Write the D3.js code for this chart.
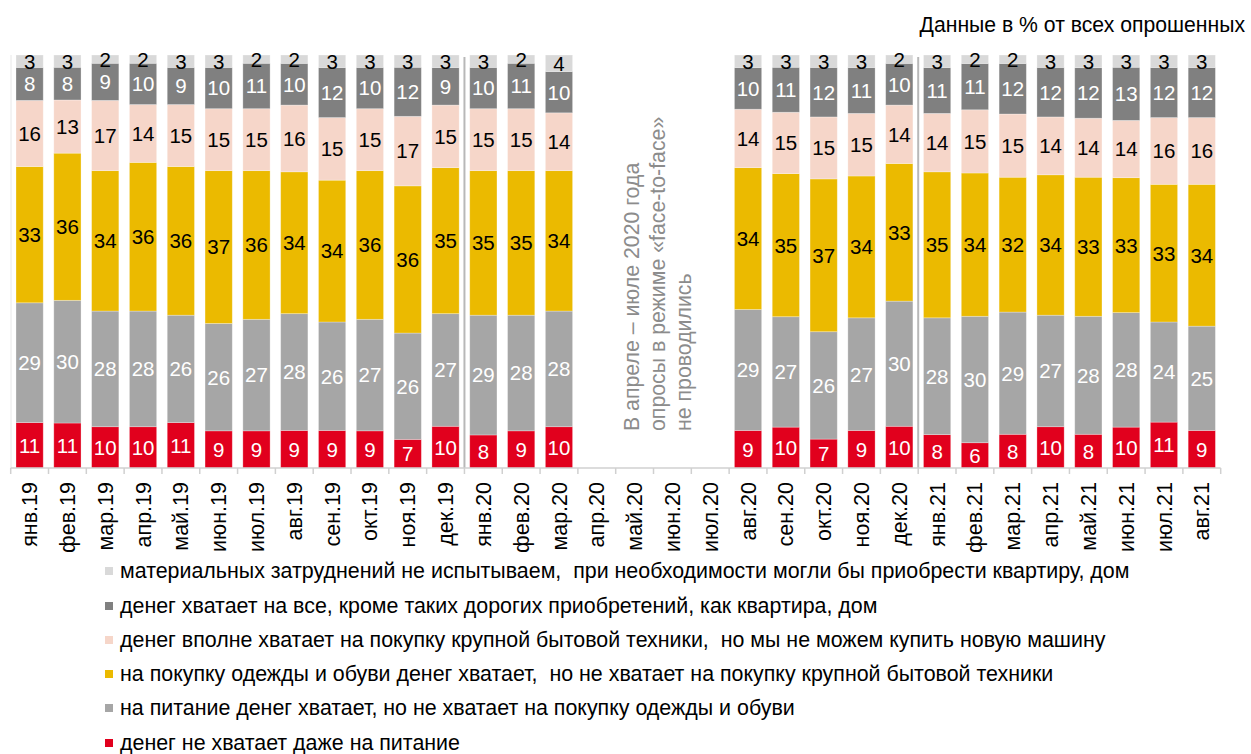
<!DOCTYPE html>
<html><head><meta charset="utf-8">
<script src="https://cdn.jsdelivr.net/npm/d3@7"></script>
<style>body{margin:0;background:#fff;} svg{display:block;font-family:"Liberation Sans",Arial,sans-serif;} text{white-space:pre;}</style>
</head><body>
<svg id="c" width="1251" height="754"></svg>
<script>
const categories = ["янв.19","фев.19","мар.19","апр.19","май.19","июн.19","июл.19","авг.19","сен.19","окт.19","ноя.19","дек.19","янв.20","фев.20","мар.20","апр.20","май.20","июн.20","июл.20","авг.20","сен.20","окт.20","ноя.20","дек.20","янв.21","фев.21","мар.21","апр.21","май.21","июн.21","июл.21","авг.21"];
const seriesNames = [
  "денег не хватает даже на питание",
  "на питание денег хватает, но не хватает на покупку одежды и обуви",
  "на покупку одежды и обуви денег хватает,  но не хватает на покупку крупной бытовой техники",
  "денег вполне хватает на покупку крупной бытовой техники,  но мы не можем купить новую машину",
  "денег хватает на все, кроме таких дорогих приобретений, как квартира, дом",
  "материальных затруднений не испытываем,  при необходимости могли бы приобрести квартиру, дом"
];
const noFood   = [11,11,10,10,11,9,9,9,9,9,7,10,8,9,10,null,null,null,null,9,10,7,9,10,8,6,8,10,8,10,11,9];
const foodOnly = [29,30,28,28,26,26,27,28,26,27,26,27,29,28,28,null,null,null,null,29,27,26,27,30,28,30,29,27,28,28,24,25];
const clothes  = [33,36,34,36,36,37,36,34,34,36,36,35,35,35,34,null,null,null,null,34,35,37,34,33,35,34,32,34,33,33,33,34];
const appliances = [16,13,17,14,15,15,15,16,15,15,17,15,15,15,14,null,null,null,null,14,15,15,15,14,14,15,15,14,14,14,16,16];
const allButHouse = [8,8,9,10,9,10,11,10,12,10,12,9,10,11,10,null,null,null,null,10,11,12,11,10,11,11,12,12,12,13,12,12];
const noHardship = [3,3,2,2,3,3,2,2,3,3,3,3,3,2,4,null,null,null,null,3,3,3,3,2,3,2,2,3,3,3,3,3];
const seriesValues = [noFood, foodOnly, clothes, appliances, allButHouse, noHardship];
const colors = ["#e1001d","#a6a6a6","#ebba00","#f6d6c9","#808080","#d9d9d9"];
const labelColors = ["#fff","#fff","#000","#000","#fff","#000"];
const titleText = "Данные в % от всех опрошенных";
const noteLines = ["В апреле – июле 2020 года","опросы в режиме «face-to-face»","не проводились"];
const separatorAfter = ["дек.19","дек.20"];

const svg = d3.select("#c");
const x = d3.scaleBand().domain(categories).range([10.7, 1220.7]).paddingInner(0.28).paddingOuter(0.14);
const y = d3.scaleLinear().domain([0,100]).range([468, 55]);
const step = x.step();
const edge = c => x(c) - x.paddingInner()*step/2;

// left faint axis
svg.append("line").attr("x1",11).attr("x2",11).attr("y1",y(100)).attr("y2",y(0)).attr("stroke","#e8e8e8").attr("stroke-width",1);

// stacked bars
categories.forEach((c,i) => {
  const vals = seriesValues.map(s => s[i]);
  if (vals[0] == null) return;
  const total = d3.sum(vals);
  let acc = 0;
  vals.forEach((v,k) => {
    const y0 = y(acc/total*100), y1 = y((acc+v)/total*100);
    acc += v;
    svg.append("rect").attr("x", x(c)).attr("width", x.bandwidth())
      .attr("y", y1).attr("height", y0-y1).attr("fill", colors[k])
      .attr("stroke","rgba(255,255,255,0.35)").attr("stroke-width",0.8);
    svg.append("text").attr("x", x(c)+x.bandwidth()/2).attr("y",(y0+y1)/2)
      .attr("dy","0.36em").attr("text-anchor","middle").attr("font-size",20.5)
      .attr("fill", labelColors[k]).text(v);
  });
});

// separators
separatorAfter.forEach(c => {
  const xi = edge(categories[categories.indexOf(c)+1]);
  svg.append("line").attr("x1",xi).attr("x2",xi).attr("y1",57).attr("y2",y(0)).attr("stroke","#b8b8b8").attr("stroke-width",2);
});

// x axis
svg.append("line").attr("x1",10.7).attr("x2",1220.7).attr("y1",y(0)).attr("y2",y(0)).attr("stroke","#d0d0d0").attr("stroke-width",1.5);
for (let i=0;i<=categories.length;i++){
  const xi = i<categories.length ? edge(categories[i]) : edge(categories[i-1])+step;
  svg.append("line").attr("x1",xi).attr("x2",xi).attr("y1",y(0)).attr("y2",y(0)+6).attr("stroke","#d0d0d0").attr("stroke-width",1.5);
}
categories.forEach(c => {
  const cx = x(c)+x.bandwidth()/2;
  svg.append("text").attr("transform",`translate(${cx},482) rotate(-90)`)
    .attr("dy","0.35em").attr("text-anchor","end").attr("font-size",21.5).attr("fill","#000").text(c);
});

// note
const noteX = [632, 658, 684];
noteLines.forEach((t,i) => {
  svg.append("text").attr("transform",`translate(${noteX[i]},431) rotate(-90)`)
    .attr("dy","0.35em").attr("text-anchor","start").attr("font-size",21.3).attr("fill","#8c8c8c").text(t);
});

// title
svg.append("text").attr("x",1245).attr("y",32).attr("text-anchor","end").attr("font-size",21.2).attr("fill","#000").text(titleText);

// legend
const legendY = [571, 606, 640, 674, 708, 743];
const order = [5,4,3,2,1,0];
order.forEach((k,j) => {
  svg.append("rect").attr("x",105).attr("y",legendY[j]-4).attr("width",8).attr("height",8).attr("fill",colors[k]);
  svg.append("text").attr("x",120).attr("y",legendY[j]).attr("dy","0.35em").attr("font-size",21.4).attr("fill","#000").text(seriesNames[k]);
});
</script>
</body></html>
